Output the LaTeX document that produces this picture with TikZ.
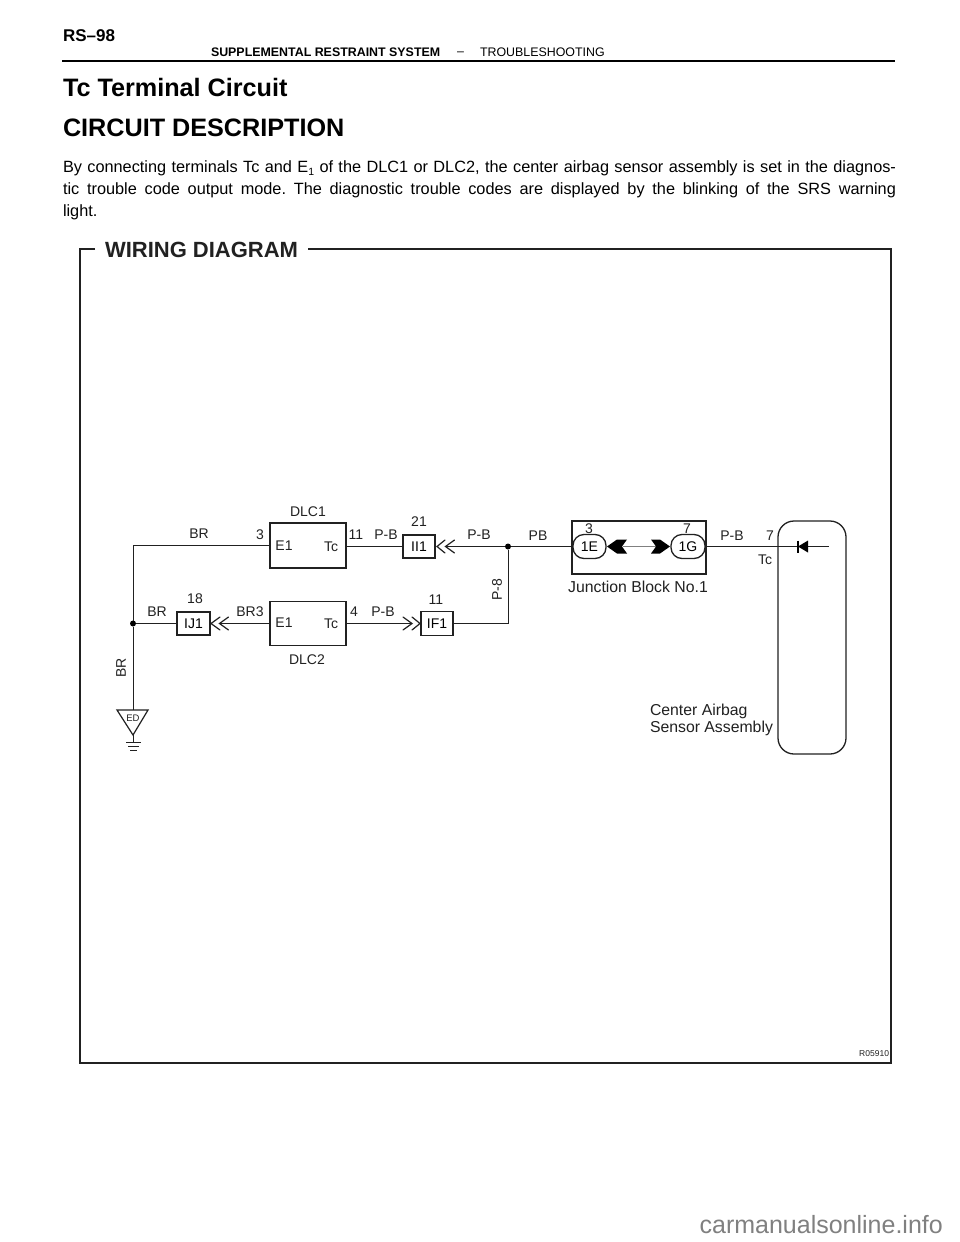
\documentclass[tikz,border=0pt]{standalone}
\usepackage{fontspec}
\setmainfont{Liberation Sans}
\usetikzlibrary{calc}
\definecolor{ink}{gray}{0.13}
\newcommand{\fsz}[1]{\fontsize{#1}{#1}\selectfont}
\tikzset{
  wire/.style={draw=ink,line width=1pt},
  heavy/.style={draw=ink,line width=1.2pt},
  box/.style={draw=ink,line width=1.3pt,inner sep=0pt,outer sep=0pt,font=\fsz{14}},
  lab/.style={inner sep=0pt,outer sep=0pt,text=ink,font=\fsz{14}},
  longlab/.style={lab,font=\fsz{15.8}},
  hdr/.style={inner sep=0pt,outer sep=0pt,anchor=west,text=black},
  body/.style={hdr,font=\fsz{16.3}\frenchspacing},
  dotnode/.style={circle,fill=black,inner sep=0pt,minimum size=6pt,outer sep=0pt},
  solidch/.style={fill=black,draw=none},
  opench/.style={draw=ink,line width=1.2pt,line cap=round,line join=miter}
}
\begin{document}
\begin{tikzpicture}[x=1pt,y=-1pt]
\useasboundingbox (0,0) rectangle (960,1242);
\fill[white] (0,0) rectangle (960,1242);
% page header
\node[hdr,font=\bfseries\fsz{17}] (page) at (63,36) {RS–98};
\node[hdr,font=\bfseries\fsz{12.4}] (sec) at (211,52.5) {SUPPLEMENTAL RESTRAINT SYSTEM};
\node[hdr,font=\fsz{12.4}] (dash) at (457,54) {–};
\node[hdr,font=\fsz{12.4}] (ts) at (480,52.5) {TROUBLESHOOTING};
\coordinate (ruleL) at (62,60.5); \coordinate (ruleR) at (895,60.5);
\draw[black,line width=2pt] (ruleL) -- (ruleR);
\node[hdr,font=\bfseries\fsz{25.2}] (title) at (63,87.5) {Tc Terminal Circuit};
\node[hdr,font=\bfseries\fsz{25.2}] (cd) at (63,128) {CIRCUIT DESCRIPTION};
\node[body] (l1) at (63,168) {\makebox[833pt][s]{By connecting terminals Tc and E\raisebox{-3pt}{\fsz{10.5}1} of the DLC1 or DLC2, the center airbag sensor assembly is set in the diagnos-}};
\node[body] (l2) at (63,190) {\makebox[833pt][s]{tic trouble code output mode. The diagnostic trouble codes are displayed by the blinking of the SRS warning}};
\node[body] (l3) at (63,212) {light.};
% frame
\node[hdr,font=\bfseries\fsz{22},text=ink] (wd) at (105,250) {WIRING DIAGRAM};
\coordinate (fa) at (95,249); \coordinate (fb) at (80,249); \coordinate (fc) at (80,1063);
\coordinate (fd) at (891,1063); \coordinate (fe) at (891,249); \coordinate (ff) at (308,249);
\draw[heavy] (fa) -- (fb) -- (fc) -- (fd) -- (fe) -- (ff);
\node[lab,font=\fsz{8.5},anchor=east] (code) at (889,1054) {R05910};
% boxes
\node[box,minimum width=76pt,minimum height=45pt] (dlc1) at (308,545.5) {};
\node[box,minimum width=76pt,minimum height=44pt] (dlc2) at (308,623.5) {};
\node[box,minimum width=33pt,minimum height=23pt] (ij1) at (193.5,623.5) {IJ1};
\node[box,minimum width=32pt,minimum height=23pt] (ii1) at (419,546.5) {II1};
\node[box,minimum width=32pt,minimum height=24pt] (if1) at (437,623.5) {IF1};
\node[box,minimum width=134pt,minimum height=53pt] (jb) at (639,547.5) {};
\node[box,minimum width=33pt,minimum height=24pt,rounded corners=11pt] (c1e) at (589.5,546.5) {1E};
\node[box,minimum width=34pt,minimum height=24pt,rounded corners=11pt] (c1g) at (688,546.5) {1G};
\node[box,minimum width=68pt,minimum height=233pt,rounded corners=16pt] (sensor) at (812,637.5) {};
% junction dots
\node[dotnode] (j1) at (133,623.5) {};
\node[dotnode] (j2) at (508,546.5) {};
% helper points
\coordinate (cornerBR) at (133,545.5);
\coordinate (cornerP8) at (508,623.5);
\coordinate (edTop) at (133,710);
\coordinate (edL) at (117,710); \coordinate (edR) at (148,710); \coordinate (edTip) at (133,735);
\coordinate (gA) at (133,742);
\coordinate (ij1tip) at (219.5,623.5);
\coordinate (ii1tip) at (445.5,546.5);
\coordinate (if1tip) at (412,623.5);
\coordinate (ch1) at (623,546.5); \coordinate (ch2) at (656,546.5);
\coordinate (dTip) at (798,546.5); \coordinate (dBase) at (808,546.5); \coordinate (dEnd) at (829,546.5);
% wires
\draw[wire] (dlc1.west) -- (cornerBR) -- (j1);
\draw[wire] (j1) -- (edTop);
\draw[wire] (j1) -- (ij1.west);
\draw[wire] (dlc2.west) -- (ij1tip);
\draw[wire] (dlc1.east |- ii1.west) -- (ii1.west);
\draw[wire] (j2) -- (ii1tip);
\draw[wire] (j2) -- (c1e.west);
\draw[wire] (j2) -- (cornerP8) -- (if1.east);
\draw[wire] (dlc2.east) -- (if1tip);
\draw[wire,draw=gray] (ch1) -- (ch2);
\draw[wire] (c1g.east) -- (dBase);
\draw[wire] (dBase) -- (dEnd);
% chevrons
\draw[opench] ($(ij1.east)+(10,-6.5)$) -- ($(ij1.east)+(1,0)$) -- ($(ij1.east)+(10,6.5)$);
\draw[opench] ($(ij1tip)+(9,-6.5)$) -- (ij1tip) -- ($(ij1tip)+(9,6.5)$);
\draw[opench] ($(ii1.east)+(10,-6.5)$) -- ($(ii1.east)+(2,0)$) -- ($(ii1.east)+(10,6.5)$);
\draw[opench] ($(ii1tip)+(9,-6.5)$) -- (ii1tip) -- ($(ii1tip)+(9,6.5)$);
\draw[opench] ($(if1.west)+(-9,-6.5)$) -- ($(if1.west)+(-1,0)$) -- ($(if1.west)+(-9,6.5)$);
\draw[opench] ($(if1tip)+(-9,-6.5)$) -- (if1tip) -- ($(if1tip)+(-9,6.5)$);
\fill[solidch] (c1e.east) ++(1,0) -- ++(10,-7) -- ++(10,0) -- ++(-5,7) -- ++(5,7) -- ++(-10,0) -- cycle;
\fill[solidch] (c1g.west) ++(-1,0) -- ++(-10,-7) -- ++(-9,0) -- ++(5,7) -- ++(-5,7) -- ++(9,0) -- cycle;
% diode
\fill[black] (dTip) -- ++(10,-6) -- ++(0,12) -- cycle;
\draw[black,line width=1.4pt] ($(dTip)+(0,-6)$) -- ($(dTip)+(0,6)$);
% ground symbol
\draw[heavy] (edL) -- (edR) -- (edTip) -- cycle;
\draw[wire] (edTip) -- (gA);
\draw[wire] (126,742) -- (141,742);
\draw[wire] (128,746) -- (139,746);
\draw[wire] (130,750) -- (137,750);
\node[lab,font=\fsz{9.5}] (ed) at (133,718) {ED};
% labels
\node[lab] (tDLC1) at (308,512) {DLC1};
\node[lab] (tDLC2) at (307,660) {DLC2};
\node[lab] (tBR1) at (199,534) {BR};
\node[lab] (t3a) at (260,535) {3};
\node[lab] (tE1a) at (284,546) {E1};
\node[lab] (tTca) at (331,547) {Tc};
\node[lab] (t11a) at (356,535) {11};
\node[lab] (tPB1) at (386,535) {P-B};
\node[lab] (t21) at (419,522) {21};
\node[lab] (t18) at (195,599) {18};
\node[lab] (tBR2) at (157,612) {BR};
\node[lab] (tBR3) at (250,612) {BR3};
\node[lab] (tE1b) at (284,623) {E1};
\node[lab] (tTcb) at (331,624) {Tc};
\node[lab] (t4) at (354,612) {4};
\node[lab] (tPB2) at (383,612) {P-B};
\node[lab,rotate=90] (tBR4) at (121,668) {BR};
\node[lab] (t11b) at (436,600) {11};
\node[lab] (tPB3) at (479,535) {P-B};
\node[lab] (tPB4) at (538,536) {PB};
\node[lab,rotate=90] (tP8) at (497,590) {P-8};
\node[lab] (t3b) at (589,529) {3};
\node[lab] (t7a) at (687,529) {7};
\node[longlab] (tJB) at (638,587) {Junction Block No.1};
\node[lab] (tPB5) at (732,536) {P-B};
\node[lab] (t7b) at (770,536) {7};
\node[lab] (tTcc) at (765,560) {Tc};
\node[longlab,anchor=west] (tCA) at (650,711) {Center Airbag};
\node[longlab,anchor=west] (tSA) at (650,728) {Sensor Assembly};
% watermark
\node[inner sep=0pt,anchor=east,text=black!50,font=\fsz{25}] (wm) at (943,1225) {carmanualsonline.info};
\end{tikzpicture}
\end{document}
